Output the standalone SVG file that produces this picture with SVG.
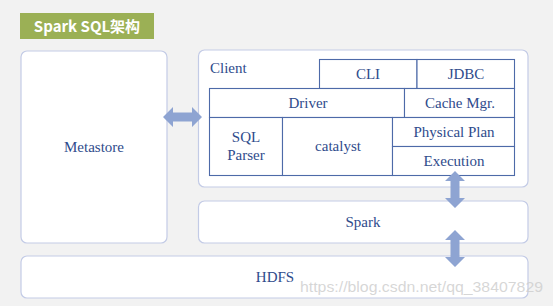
<svg xmlns="http://www.w3.org/2000/svg" width="553" height="306" viewBox="0 0 553 306">
<style>
.box{fill:#ffffff;stroke:#c3cbe6;stroke-width:1.2}
.cell{fill:#ffffff;stroke:#4d6aa8;stroke-width:1.1}
.t{font-family:'Liberation Serif','Times New Roman',Times,'DejaVu Serif',serif;font-size:15px;fill:#2f4b8c;text-anchor:middle}
.arrow{fill:#8ea4d2}
</style>
<rect width="553" height="306" fill="#f2f2f2"/>
<g id="title">
<rect x="20" y="13" width="134" height="26" fill="#9bb055"/>
<text x="87" y="32" font-family="'Noto Sans CJK SC','Noto Sans',sans-serif" font-weight="bold" font-size="15" fill="#ffffff" text-anchor="middle">Spark SQL架构</text>
</g>
<g id="metastore">
<rect class="box" x="21" y="51" width="146" height="192" rx="6"/>
<text class="t" x="94" y="152">Metastore</text>
</g>
<g id="client">
<rect class="box" x="198.5" y="50" width="329.5" height="137" rx="6"/>
<text class="t" x="210" y="73" style="text-anchor:start">Client</text>
</g>
<g id="cli"><rect class="cell" x="319.5" y="59.5" width="97.5" height="29"/><text class="t" x="368" y="79">CLI</text></g>
<g id="jdbc"><rect class="cell" x="417" y="59.5" width="97.5" height="29"/><text class="t" x="466" y="79">JDBC</text></g>
<g id="driver"><rect class="cell" x="209.5" y="88.5" width="195" height="29"/><text class="t" x="308" y="108">Driver</text></g>
<g id="cache"><rect class="cell" x="404.5" y="88.5" width="110" height="29"/><text class="t" x="460" y="108">Cache Mgr.</text></g>
<g id="sqlparser"><rect class="cell" x="209.5" y="117.5" width="73" height="58"/><text class="t" x="246" y="142">SQL</text><text class="t" x="246" y="160">Parser</text></g>
<g id="catalyst"><rect class="cell" x="282.5" y="117.5" width="110" height="58"/><text class="t" x="338" y="151">catalyst</text></g>
<g id="physical"><rect class="cell" x="392.5" y="117.5" width="122" height="29"/><text class="t" x="454" y="137">Physical Plan</text></g>
<g id="execution"><rect class="cell" x="392.5" y="146.5" width="122" height="29"/><text class="t" x="454" y="166">Execution</text></g>
<g id="spark">
<rect class="box" x="198.5" y="201" width="329.5" height="42" rx="6"/>
<text class="t" x="363" y="227">Spark</text>
</g>
<g id="hdfs">
<rect class="box" x="21" y="256" width="507" height="42" rx="6"/>
<text class="t" x="275" y="282">HDFS</text>
</g>
<g id="connectors">
<polygon class="arrow" points="163,117 173,107 173,112.5 192,112.5 192,107 202,117 192,127 192,121.5 173,121.5 173,127"/>
<polygon class="arrow" points="455,171 465,181 459.5,181 459.5,198 465,198 455,208 445,198 450.5,198 450.5,181 445,181"/>
<polygon class="arrow" points="455,230 465,240 459.5,240 459.5,257 465,257 455,267 445,257 450.5,257 450.5,240 445,240"/>
</g>
<text x="300" y="292" font-family="'Liberation Sans',Arial,sans-serif" font-size="15" fill="#cfcfcf" fill-opacity="0.85" textLength="243" lengthAdjust="spacingAndGlyphs">https://blog.csdn.net/qq_38407829</text>
</svg>
